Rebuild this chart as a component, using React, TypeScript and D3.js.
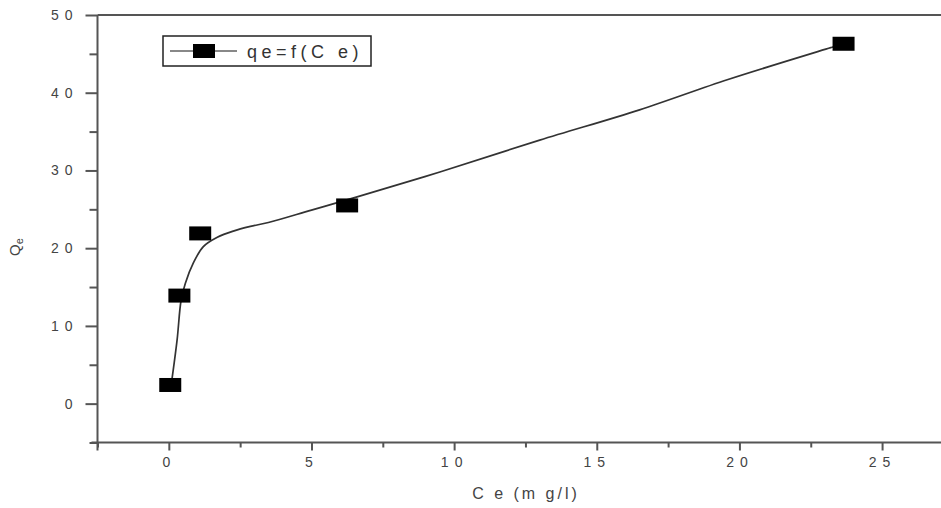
import React, { useEffect, useRef } from "react";
import * as d3 from "d3";

// Measured data points (Ce, qe)
const ceData = [0.05, 0.37, 1.1, 6.25, 23.65];
const qeData = [2.4, 13.9, 21.9, 25.5, 46.3];

// Fitted curve
const fitCe = [0.09, 0.29, 0.43, 0.58, 0.86, 1.21, 1.7, 2.26, 2.86, 3.49, 5.0, 6.6, 9.5, 13.0, 16.5, 19.6, 23.2, 23.65];
const fitQe = [2.6, 8.2, 13.3, 15.5, 18.1, 20.2, 21.4, 22.2, 22.8, 23.3, 24.9, 26.6, 29.8, 33.9, 37.8, 41.7, 45.8, 46.3];

const xMajorTicks = [0, 5, 10, 15, 20, 25];
const xMinorTicks = [-2.5, 2.5, 7.5, 12.5, 17.5, 22.5];
const yMajorTicks = [0, 10, 20, 30, 40, 50];
const yMinorTicks = [-5, 5, 15, 25, 35, 45];

const legendLabel = "qe=f(C e)";
const xTitle = "C e (m g/l)";

const W = 941;
const H = 508;

export default function App() {
  const ref = useRef<SVGSVGElement>(null);

  useEffect(() => {
    const svg = d3.select(ref.current);
    svg.selectAll("*").remove();

    const x = d3.scaleLinear().domain([-2.5, 27.5]).range([97.5, 953.4]);
    const y = d3.scaleLinear().domain([-5, 50]).range([442.5, 15]);

    const axisColor = "#555";
    const textColor = "#444";
    const font = "Liberation Sans, Arial, sans-serif";

    // X axis major
    const gx = svg.append("g").attr("transform", `translate(0,${y(-5)})`);
    gx.call(
      d3.axisBottom(x).tickValues(xMajorTicks).tickSize(8).tickPadding(7).tickFormat(d3.format("d")) as any
    );
    const gxm = svg.append("g").attr("transform", `translate(0,${y(-5)})`);
    gxm.call(d3.axisBottom(x).tickValues(xMinorTicks).tickSize(5).tickFormat(() => "") as any);

    // Y axis major
    const gy = svg.append("g").attr("transform", `translate(${x(-2.5)},0)`);
    gy.call(
      d3.axisLeft(y).tickValues(yMajorTicks).tickSize(12).tickPadding(7).tickFormat(d3.format("d")) as any
    );
    const gym = svg.append("g").attr("transform", `translate(${x(-2.5)},0)`);
    gym.call(d3.axisLeft(y).tickValues(yMinorTicks).tickSize(8).tickFormat(() => "") as any);

    [gx, gxm, gy, gym].forEach((g) => {
      g.select(".domain").remove();
      g.selectAll(".tick line").attr("stroke", axisColor).attr("stroke-width", 2);
      g.selectAll(".tick text")
        .attr("fill", textColor)
        .attr("font-family", font)
        .attr("font-size", 14)
        .attr("letter-spacing", 6);
    });

    // axis lines extending to the cropped edge
    svg
      .append("line")
      .attr("x1", x(-2.5) - 6)
      .attr("x2", W + 5)
      .attr("y1", y(-5))
      .attr("y2", y(-5))
      .attr("stroke", axisColor)
      .attr("stroke-width", 2);
    svg
      .append("line")
      .attr("x1", x(-2.5))
      .attr("x2", x(-2.5))
      .attr("y1", y(50))
      .attr("y2", y(-5) + 8)
      .attr("stroke", axisColor)
      .attr("stroke-width", 2);
    // top frame line
    svg
      .append("line")
      .attr("x1", x(-2.5))
      .attr("x2", W + 5)
      .attr("y1", y(50))
      .attr("y2", y(50))
      .attr("stroke", axisColor)
      .attr("stroke-width", 2);

    // Fit curve
    const pts: [number, number][] = fitCe.map((c, i) => [c, fitQe[i]]);
    const line = d3
      .line<[number, number]>()
      .x((d) => x(d[0]))
      .y((d) => y(d[1]))
      .curve(d3.curveCatmullRom.alpha(0.5));
    svg
      .append("path")
      .attr("d", line(pts))
      .attr("fill", "none")
      .attr("stroke", "#333")
      .attr("stroke-width", 1.7);

    // Markers
    const mw = 22;
    const mh = 14;
    svg
      .append("g")
      .selectAll("rect")
      .data(ceData.map((c, i) => [c, qeData[i]]))
      .join("rect")
      .attr("x", (d) => x(d[0]) - mw / 2)
      .attr("y", (d) => y(d[1]) - mh / 2)
      .attr("width", mw)
      .attr("height", mh)
      .attr("fill", "#000");

    // Legend
    const lg = svg.append("g");
    lg.append("rect")
      .attr("x", 163)
      .attr("y", 36)
      .attr("width", 208)
      .attr("height", 30)
      .attr("fill", "#fff")
      .attr("stroke", "#222")
      .attr("stroke-width", 1.5);
    lg.append("line")
      .attr("x1", 170)
      .attr("x2", 237)
      .attr("y1", 51)
      .attr("y2", 51)
      .attr("stroke", "#888")
      .attr("stroke-width", 1.8);
    lg.append("rect").attr("x", 193).attr("y", 44).attr("width", mw).attr("height", mh).attr("fill", "#000");
    lg.append("text")
      .attr("x", 247)
      .attr("y", 58)
      .attr("font-family", font)
      .attr("font-size", 18)
      .attr("letter-spacing", 4.5)
      .attr("fill", "#333")
      .text(legendLabel);

    // X title
    svg
      .append("text")
      .attr("x", 526)
      .attr("y", 499)
      .attr("text-anchor", "middle")
      .attr("font-family", font)
      .attr("font-size", 16)
      .attr("letter-spacing", 3)
      .attr("fill", "#444")
      .text(xTitle);

    // Y title (Q with subscript e)
    const yt = svg
      .append("text")
      .attr("transform", `translate(20,256) rotate(-90)`)
      .attr("font-family", font)
      .attr("font-size", 15)
      .attr("fill", "#444");
    yt.append("tspan").text("Q");
    yt.append("tspan").attr("font-size", 11).attr("dy", 3).text("e");
  }, []);

  return (
    <svg
      ref={ref}
      width={W}
      height={H}
      style={{ position: "absolute", left: 0, top: 0, background: "#fff" }}
    />
  );
}
